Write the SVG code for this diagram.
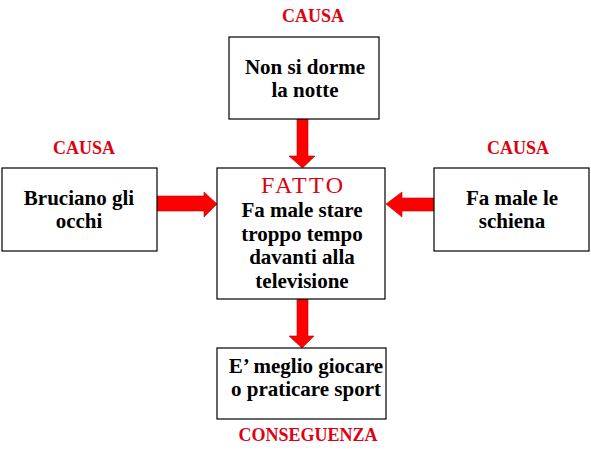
<svg xmlns="http://www.w3.org/2000/svg" width="591" height="456" viewBox="0 0 591 456">
<style>
.box{fill:#fff;stroke:#000;stroke-width:1.2}
.t{font-family:"Liberation Serif","Times New Roman",serif;font-weight:bold;font-size:21px;fill:#000;text-anchor:middle}
.lab{font-family:"Liberation Serif","Times New Roman",serif;font-weight:bold;font-size:18px;fill:#E00010;text-anchor:middle}
.fatto{font-family:"Liberation Serif","Times New Roman",serif;font-size:24px;fill:#E00010;text-anchor:middle}
.arr{fill:#FF0000;stroke:#C00000;stroke-width:0.6}
</style>
<rect width="591" height="456" fill="#fff"/>
<text class="lab" x="313" y="22">CAUSA</text>
<text class="lab" x="84" y="154">CAUSA</text>
<text class="lab" x="518" y="154">CAUSA</text>
<text class="lab" x="308" y="441">CONSEGUENZA</text>
<g id="connectors">
<polygon class="arr" points="297,119 308,119 308,156 315,156 302.5,168 289,156 297,156"/>
<polygon class="arr" points="297,299 308,299 308,336 314,336 302,348 289,336 297,336"/>
<polygon class="arr" points="157,196 204,196 204,192 217,204 204,217 204,211 157,211"/>
<polygon class="arr" points="434,198 402,198 402,192 386,204 402,217 402,211 434,211"/>
</g>
<g id="node-top">
<rect class="box" x="229" y="37" width="150" height="82"/>
<text class="t" x="305" y="74">Non si dorme</text>
<text class="t" x="305" y="97">la notte</text>
</g>
<g id="node-left">
<rect class="box" x="2" y="168" width="155" height="83"/>
<text class="t" x="79" y="205">Bruciano gli</text>
<text class="t" x="79" y="228">occhi</text>
</g>
<g id="node-right">
<rect class="box" x="434" y="168" width="155" height="83"/>
<text class="t" x="512" y="205">Fa male le</text>
<text class="t" x="512" y="228">schiena</text>
</g>
<g id="node-center">
<rect class="box" x="217" y="168" width="168" height="131"/>
<text class="fatto" x="302" y="193" textLength="82">FATTO</text>
<text class="t" x="302" y="217">Fa male stare</text>
<text class="t" x="302" y="241">troppo tempo</text>
<text class="t" x="302" y="264">davanti alla</text>
<text class="t" x="302" y="288">televisione</text>
</g>
<g id="node-bottom">
<rect class="box" x="217" y="348" width="169" height="71"/>
<text class="t" x="306" y="373">E’ meglio giocare</text>
<text class="t" x="306" y="396">o praticare sport</text>
</g>
</svg>
